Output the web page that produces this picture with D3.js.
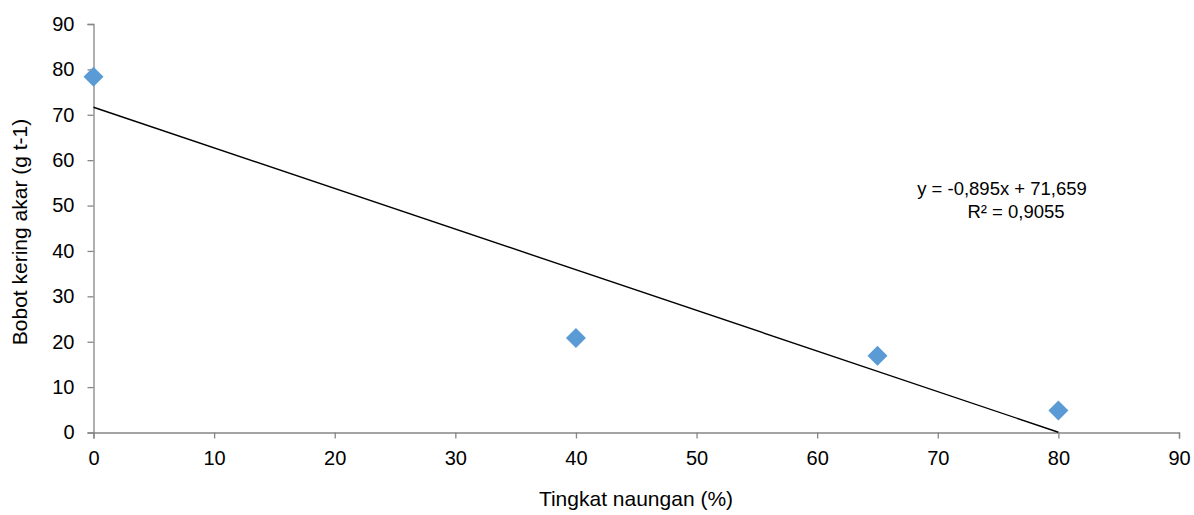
<!DOCTYPE html>
<html>
<head>
<meta charset="utf-8">
<script src="https://cdn.jsdelivr.net/npm/d3@7"></script>
<style>
  body { margin: 0; background: #fff; }
  text { font-family: "Liberation Sans", Arial, sans-serif; fill: #000; }
</style>
</head>
<body>
<svg id="chart" width="1194" height="515"></svg>
<script>
// data
const shade = [0, 40, 65, 80];
const rootDry = [78.4, 20.8, 16.9, 4.85];
const slope = -0.895, intercept = 71.659;
const eqLabels = ["y = -0,895x + 71,659", "R² = 0,9055"];
const eqCenters = [1002, 1016];
const xTicks = d3.range(0, 91, 10);
const yTicks = d3.range(0, 91, 10);

const svg = d3.select("#chart");
const x = d3.scaleLinear().domain([0, 90]).range([93.5, 1179]);
const y = d3.scaleLinear().domain([0, 90]).range([432.5, 24]);
const axisColor = "#868686";
const font = "Liberation Sans, Arial, sans-serif";

// y axis
const gy = svg.append("g").attr("transform", `translate(${x(0)},0)`)
  .call(d3.axisLeft(y).tickValues(yTicks).tickSize(6).tickPadding(13).tickFormat(d3.format("d")));
gy.select(".domain").attr("stroke", axisColor).attr("stroke-width", 1.3);
gy.selectAll(".tick line").attr("stroke", axisColor).attr("stroke-width", 1.3);
gy.selectAll(".tick text").attr("font-size", 20).attr("font-family", font).attr("fill", "#000");

// x axis
const gx = svg.append("g").attr("transform", `translate(0,${y(0)})`)
  .call(d3.axisBottom(x).tickValues(xTicks).tickSize(6).tickPadding(12).tickFormat(d3.format("d")));
gx.select(".domain").attr("stroke", axisColor).attr("stroke-width", 1.3);
gx.selectAll(".tick line").attr("stroke", axisColor).attr("stroke-width", 1.3);
gx.selectAll(".tick text").attr("font-size", 20).attr("font-family", font).attr("fill", "#000");

// trendline over data range
const x0 = d3.min(shade), x1 = d3.max(shade);
svg.append("line")
  .attr("x1", x(x0)).attr("y1", y(slope * x0 + intercept))
  .attr("x2", x(x1)).attr("y2", y(Math.max(0, slope * x1 + intercept)))
  .attr("stroke", "#000").attr("stroke-width", 1.4);

// markers
const diamond = d3.symbol().type(d3.symbolSquare).size(200);
svg.append("g").selectAll("path")
  .data(shade.map((s, i) => [s, rootDry[i]]))
  .join("path")
  .attr("d", diamond)
  .attr("transform", d => `translate(${x(d[0])},${y(d[1])}) rotate(45)`)
  .attr("fill", "#5B9BD5");

// equation
svg.append("g").selectAll("text")
  .data(eqLabels)
  .join("text")
  .attr("x", (d, i) => eqCenters[i]).attr("y", (d, i) => 195 + i * 23)
  .attr("text-anchor", "middle").attr("font-size", 18.5)
  .text(d => d);

// axis titles
svg.append("text")
  .attr("x", 636).attr("y", 506)
  .attr("text-anchor", "middle").attr("font-size", 21)
  .text("Tingkat naungan (%)");
svg.append("text")
  .attr("transform", `translate(27,232) rotate(-90)`)
  .attr("text-anchor", "middle").attr("font-size", 21)
  .text("Bobot kering akar (g t-1)");
</script>
</body>
</html>
